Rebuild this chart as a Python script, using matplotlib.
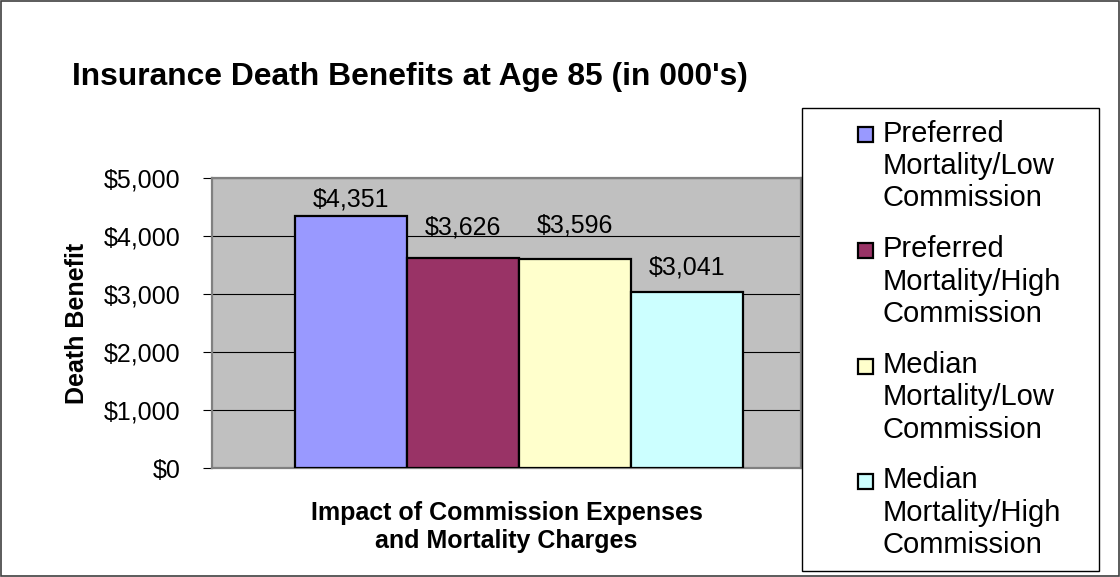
import matplotlib
matplotlib.use("Agg")
import matplotlib.pyplot as plt
from matplotlib.patches import Rectangle
from matplotlib.legend_handler import HandlerPatch
from matplotlib.ticker import FuncFormatter

plt.rcParams['font.family'] = ['Liberation Sans', 'DejaVu Sans']

# data
series = ["Preferred\nMortality/Low\nCommission",
          "Preferred\nMortality/High\nCommission",
          "Median\nMortality/Low\nCommission",
          "Median\nMortality/High\nCommission"]
benefits = [4351, 3626, 3596, 3041]
colors = ["#9999FF", "#993366", "#FFFFCC", "#CCFFFF"]
label_offsets = [6.5, 17, 19.5, 12]   # points above bar top (style only)

fig = plt.figure(figsize=(11.2, 5.77), dpi=100)
ax = fig.add_axes([212 / 1120, 1 - 468 / 577, 589 / 1120, 290 / 577])
ax.set_facecolor("#C0C0C0")

bars = []
for i, (name, val, col) in enumerate(zip(series, benefits, colors)):
    b = ax.bar(i, val, width=1.0, color=col, edgecolor="black", linewidth=1.6, zorder=3)
    bars.append(b[0])
    ax.annotate("${:,.0f}".format(val), xy=(i, val), xytext=(0, label_offsets[i]),
                textcoords="offset points", ha="center", va="baseline", fontsize=18)

ax.set_xlim(-1.24, 4.02)
ax.set_ylim(0, 5000)
ax.set_yticks([0, 1000, 2000, 3000, 4000, 5000])
ax.yaxis.set_major_formatter(FuncFormatter(lambda v, p: "${:,.0f}".format(v)))
ax.tick_params(axis="y", direction="out", length=6.5, width=0.8, pad=16, labelsize=18)
ax.set_xticks([])
ax.yaxis.grid(True, color="black", linewidth=0.8, zorder=1)
ax.set_axisbelow(True)
for s in ax.spines.values():
    s.set_color("#808080")
    s.set_linewidth(1.6)

ax.set_ylabel("Death Benefit", fontsize=18, fontweight="bold", labelpad=11)
ax.set_xlabel("Impact of Commission Expenses\nand Mortality Charges", fontsize=18,
              fontweight="bold", labelpad=23.5, linespacing=1.24)

fig.text(72 / 1120, 1 - 85 / 577, "Insurance Death Benefits at Age 85 (in 000's)",
         fontsize=22.9, fontweight="bold", va="baseline", ha="left")


# legend square sits beside the first line of each 3-line label
def square_patch(legend, orig_handle, xdescent, ydescent, width, height, fontsize):
    sq = 10.8
    return Rectangle((width - sq - xdescent, height / 2 - sq / 2 - ydescent + 23), sq, sq)


leg = ax.legend(handles=bars, labels=series, loc="upper left",
                bbox_to_anchor=(802 / 1120, 1 - 572 / 577, 297 / 1120, 464 / 577),
                bbox_transform=fig.transFigure, mode="expand", borderaxespad=0,
                fontsize=21, frameon=True, fancybox=False, framealpha=1,
                edgecolor="black", borderpad=0.4, handlelength=2.05,
                handletextpad=0.3, labelspacing=0.78,
                handler_map={Rectangle: HandlerPatch(patch_func=square_patch)})
leg.get_frame().set_linewidth(1.0)
for t in leg.get_texts():
    t.set_linespacing(1.2)

fig.patches.append(Rectangle((0.001, 0.001), 0.998, 0.997, transform=fig.transFigure,
                             fill=False, edgecolor="#404040", linewidth=1.2))

fig.savefig("out.png", dpi=100)
